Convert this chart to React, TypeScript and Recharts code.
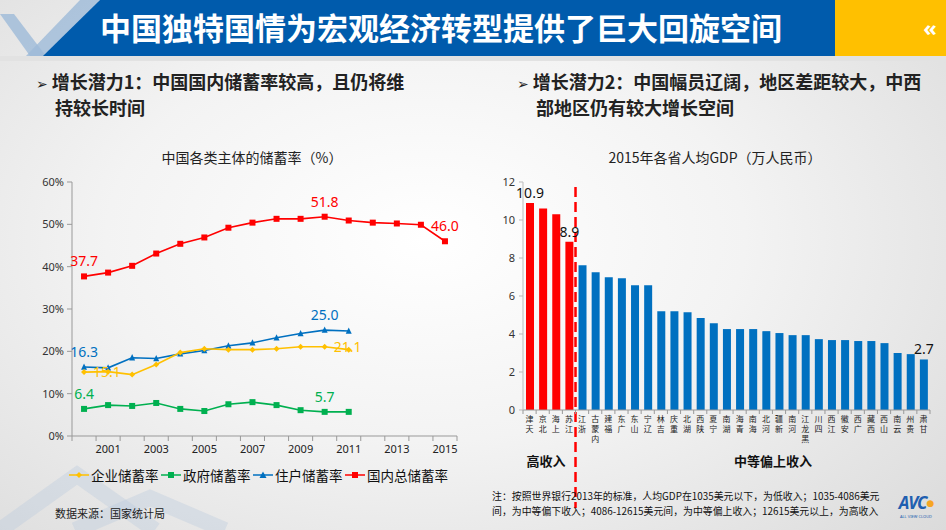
import React from 'react';
import { LineChart, Line, XAxis, YAxis, BarChart, Bar, Cell, LabelList, ReferenceLine } from 'recharts';

// ---------- Left chart data ----------
const years = ['2000','2001','2002','2003','2004','2005','2006','2007','2008','2009','2010','2011','2012','2013','2014','2015'];
const totalSaving = [37.7, 38.6, 40.2, 43.1, 45.4, 46.9, 49.2, 50.4, 51.3, 51.3, 51.8, 50.9, 50.4, 50.2, 49.9, 46.0];
const householdSaving = [16.3, 16.1, 18.5, 18.3, 19.4, 20.2, 21.3, 22.0, 23.2, 24.2, 25.0, 24.8];
const enterpriseSaving = [15.1, 15.2, 14.5, 16.9, 19.7, 20.6, 20.4, 20.4, 20.6, 21.1, 21.1, 20.4];
const governmentSaving = [6.4, 7.3, 7.1, 7.8, 6.4, 5.9, 7.5, 8.0, 7.3, 6.1, 5.7, 5.7];
const savingTicks = [0, 10, 20, 30, 40, 50, 60];
const totalLabelIdx = [0, 10, 15];
const householdLabelIdx = [0, 10];
const enterpriseLabelIdx = [0, 10];
const governmentLabelIdx = [0, 10];

// ---------- Right chart data ----------
const provinces = ['天津','北京','上海','江苏','浙江','内蒙古','福建','广东','山东','辽宁','吉林','重庆','湖北','陕西','宁夏','湖南','青海','海南','河北','新疆','河南','黑龙江','四川','江西','安徽','广西','西藏','山西','云南','贵州','甘肃'];
const gdpPerCapita = [10.9, 10.6, 10.3, 8.86, 7.62, 7.25, 6.99, 6.94, 6.57, 6.57, 5.2, 5.2, 5.15, 4.84, 4.57, 4.26, 4.26, 4.26, 4.15, 4.05, 3.94, 3.94, 3.73, 3.68, 3.68, 3.63, 3.63, 3.52, 3.0, 2.94, 2.66];
const highIncomeCount = 4;
const gdpTicks = [0, 2, 4, 6, 8, 10, 12];
const gdpLabelIdx = [0, 3, 30];

const savingData = years.map((y, i) => ({
  year: y,
  total: totalSaving[i] ?? null,
  household: householdSaving[i] ?? null,
  enterprise: enterpriseSaving[i] ?? null,
  government: governmentSaving[i] ?? null,
}));
const gdpData = provinces.map((p, i) => ({ name: p, gdp: gdpPerCapita[i] }));

const RED = '#FF0000';
const BLUE = '#0070C0';
const YELLOW = '#FFC000';
const GREEN = '#00B050';
const NUM_FONT = '"Noto Sans", "DejaVu Sans", sans-serif';
const CJK_FONT = '"Noto Sans CJK SC", "Noto Sans", sans-serif';

const HALF_L = 385 / 16 / 2;
const HALF_R = 407 / 31 / 2;

const squareDot = (color: string, s: number) => (p: any) => {
  if (p.cx == null || p.cy == null || p.value == null) return <g key={p.index} />;
  return <rect key={p.index} x={p.cx - s / 2} y={p.cy - s / 2} width={s} height={s} fill={color} />;
};
const triangleDot = (color: string, s: number) => (p: any) => {
  if (p.cx == null || p.cy == null || p.value == null) return <g key={p.index} />;
  const { cx, cy } = p;
  return <polygon key={p.index} points={`${cx},${cy - s * 0.6} ${cx - s / 2},${cy + s * 0.45} ${cx + s / 2},${cy + s * 0.45}`} fill={color} />;
};
const diamondDot = (color: string, s: number) => (p: any) => {
  if (p.cx == null || p.cy == null || p.value == null) return <g key={p.index} />;
  const { cx, cy } = p;
  return <polygon key={p.index} points={`${cx},${cy - s / 2} ${cx + s / 2},${cy} ${cx},${cy + s / 2} ${cx - s / 2},${cy}`} fill={color} />;
};

const makeLabel = (idxs: number[], color: string, pos: 'top' | 'right') => (p: any) => {
  const { value, index } = p;
  const x = p.x ?? p.viewBox?.x;
  const y = p.y ?? p.viewBox?.y;
  if (!idxs.includes(index) || value == null || x == null) return null;
  const txt = Number(value).toFixed(1);
  if (pos === 'top') {
    return <text key={index} x={x} y={y - 10} textAnchor="middle" fill={color} fontSize={14} fontFamily={NUM_FONT}>{txt}</text>;
  }
  return <text key={index} x={x + 9} y={y + 5} textAnchor="start" fill={color} fontSize={14} fontFamily={NUM_FONT}>{txt}</text>;
};

const barLabel = (p: any) => {
  const { x, y, width, value, index } = p;
  if (!gdpLabelIdx.includes(index)) return null;
  return <text key={index} x={x + width / 2} y={y - 5} textAnchor="middle" fill="#111" fontSize={14} fontFamily={NUM_FONT}>{Number(value).toFixed(1)}</text>;
};

const YearTick = (p: any) => {
  const { x, y, payload, index } = p;
  const axisY = y - 7;
  const yr = Number(payload.value);
  return (
    <g>
      <line x1={x - HALF_L} x2={x - HALF_L} y1={axisY} y2={axisY + 5} stroke="#999" />
      {index === years.length - 1 && <line x1={x + HALF_L} x2={x + HALF_L} y1={axisY} y2={axisY + 5} stroke="#999" />}
      {yr % 2 === 1 && (
        <text x={x} y={axisY + 17} textAnchor="middle" fontSize={11} fill="#222" fontFamily={NUM_FONT}>{payload.value}</text>
      )}
    </g>
  );
};

const ProvTick = (p: any) => {
  const { x, y, payload, index } = p;
  const axisY = y - 7;
  const chars = Array.from(String(payload.value)).reverse();
  return (
    <g>
      <line x1={x - HALF_R} x2={x - HALF_R} y1={axisY} y2={axisY + 4} stroke="#999" />
      {index === provinces.length - 1 && <line x1={x + HALF_R} x2={x + HALF_R} y1={axisY} y2={axisY + 4} stroke="#999" />}
      {chars.map((c, i) => (
        <text key={i} x={x} y={axisY + 12 + i * 10} textAnchor="middle" fontSize={8} fill="#222" fontFamily={CJK_FONT}>{c}</text>
      ))}
    </g>
  );
};

const LegendIcon = ({ color, kind }: { color: string; kind: string }) => (
  <svg width={20} height={10} style={{ verticalAlign: 'middle', marginRight: 2 }}>
    <line x1={0} x2={20} y1={5} y2={5} stroke={color} strokeWidth={1.5} />
    {kind === 'square' && <rect x={7} y={2} width={6} height={6} fill={color} />}
    {kind === 'triangle' && <polygon points="10,1.5 6.5,8 13.5,8" fill={color} />}
    {kind === 'diamond' && <polygon points="10,2 13,5 10,8 7,5" fill={color} />}
  </svg>
);

const legendItems = [
  { name: '企业储蓄率', color: YELLOW, kind: 'diamond', left: 69 },
  { name: '政府储蓄率', color: GREEN, kind: 'square', left: 161 },
  { name: '住户储蓄率', color: BLUE, kind: 'triangle', left: 253 },
  { name: '国内总储蓄率', color: RED, kind: 'square', left: 345 },
];

export default function App() {
  return (
    <div
      style={{
        position: 'absolute', left: 0, top: 0, width: 946, height: 530, overflow: 'hidden',
        background: 'radial-gradient(ellipse 75% 85% at 45% 45%, #ffffff 0%, #f3f3f3 45%, #dadada 100%)',
        fontFamily: CJK_FONT,
      }}
    >
      {/* Header */}
      <svg width={946} height={62} style={{ position: 'absolute', left: 0, top: 0 }}>
        <rect x={0} y={56} width={946} height={5} fill="#e2e2e2" />
        <polygon points="0,14 14,14 46,56 30,56" fill="#9dbad8" opacity={0.8} />
        <polygon points="80,0 100,0 46,56 26,56" fill="#9dbad8" opacity={0.8} />
        <polygon points="100,0 835,0 835,56 43,56" fill="#005BAC" />
        <rect x={835} y={0} width={111} height={56} fill="#FFC000" />
        <text x={930} y={36} textAnchor="middle" fill="#fff" fontSize={22} fontWeight="bold" fontFamily={NUM_FONT}>«</text>
      </svg>
      <div style={{ position: 'absolute', left: 100, top: 7, color: '#fff', fontSize: 31, fontWeight: 'bold', lineHeight: '40px', whiteSpace: 'nowrap' }}>
        中国独特国情为宏观经济转型提供了巨大回旋空间
      </div>

      {/* Bottom-left decoration */}
      <svg width={300} height={80} style={{ position: 'absolute', left: 0, top: 450 }}>
        <polyline points="0,80 77,25 155,80" fill="none" stroke="#b8c9dc" strokeWidth={16} opacity={0.35} />
        <polyline points="75,80 150,48 225,80" fill="none" stroke="#b8c9dc" strokeWidth={16} opacity={0.35} />
      </svg>

      {/* Sub headings */}
      <div style={{ position: 'absolute', left: 36, top: 70, fontSize: 18, fontWeight: 'bold', color: '#222', lineHeight: '23px', whiteSpace: 'nowrap' }}>
        <span style={{ fontFamily: '"DejaVu Sans"', fontSize: 14, fontWeight: 'normal', marginRight: 4 }}>➢</span>增长潜力1：中国国内储蓄率较高，且仍将维<br />
        <span style={{ marginLeft: 19 }}>持较长时间</span>
      </div>
      <div style={{ position: 'absolute', left: 517, top: 70, fontSize: 18, fontWeight: 'bold', color: '#222', lineHeight: '23px', whiteSpace: 'nowrap' }}>
        <span style={{ fontFamily: '"DejaVu Sans"', fontSize: 14, fontWeight: 'normal', marginRight: 4 }}>➢</span>增长潜力2：中国幅员辽阔，地区差距较大，中西<br />
        <span style={{ marginLeft: 19 }}>部地区仍有较大增长空间</span>
      </div>

      {/* Chart titles */}
      <div style={{ position: 'absolute', left: 152, width: 200, top: 147, textAlign: 'center', fontSize: 14, color: '#222', whiteSpace: 'nowrap' }}>
        中国各类主体的储蓄率（%）
      </div>
      <div style={{ position: 'absolute', left: 600, width: 230, top: 147, textAlign: 'center', fontSize: 14, color: '#222', whiteSpace: 'nowrap' }}>
        2015年各省人均GDP（万人民币）
      </div>

      {/* Left line chart */}
      <div style={{ position: 'absolute', left: 0, top: 170 }}>
        <LineChart width={480} height={300} data={savingData} margin={{ top: 12, right: 23, bottom: 0, left: 0 }}>
          <XAxis dataKey="year" height={34} interval={0} tickLine={false} tickSize={5} tickMargin={2}
            padding={{ left: HALF_L, right: HALF_L }}
            axisLine={{ stroke: '#999' }} tick={<YearTick />} />
          <YAxis width={72} domain={[0, 60]} ticks={savingTicks} tickFormatter={(v) => `${v}%`} interval={0}
            tickSize={5} tickMargin={3} axisLine={{ stroke: '#999' }} tickLine={{ stroke: '#999' }}
            tick={{ fontSize: 11, fill: '#333', fontFamily: NUM_FONT }} />
          <Line dataKey="total" stroke={RED} strokeWidth={1.6} isAnimationActive={false} dot={squareDot(RED, 6)} activeDot={false}>
            <LabelList dataKey="total" content={makeLabel(totalLabelIdx, RED, 'top')} />
          </Line>
          <Line dataKey="household" stroke={BLUE} strokeWidth={1.6} isAnimationActive={false} dot={triangleDot(BLUE, 6)} activeDot={false}>
            <LabelList dataKey="household" content={makeLabel(householdLabelIdx, BLUE, 'top')} />
          </Line>
          <Line dataKey="enterprise" stroke={YELLOW} strokeWidth={1.6} isAnimationActive={false} dot={diamondDot(YELLOW, 6)} activeDot={false}>
            <LabelList dataKey="enterprise" content={makeLabel(enterpriseLabelIdx, YELLOW, 'right')} />
          </Line>
          <Line dataKey="government" stroke={GREEN} strokeWidth={1.6} isAnimationActive={false} dot={squareDot(GREEN, 6)} activeDot={false}>
            <LabelList dataKey="government" content={makeLabel(governmentLabelIdx, GREEN, 'top')} />
          </Line>
        </LineChart>
      </div>

      {/* Left legend */}
      {legendItems.map((it) => (
        <div key={it.name} style={{ position: 'absolute', left: it.left, top: 463, fontSize: 13.5, color: '#111', whiteSpace: 'nowrap', lineHeight: '20px' }}>
          <LegendIcon color={it.color} kind={it.kind} />
          <span style={{ verticalAlign: 'middle' }}>{it.name}</span>
        </div>
      ))}

      <div style={{ position: 'absolute', left: 55, top: 505, fontSize: 11, color: '#222', whiteSpace: 'nowrap' }}>
        数据来源：国家统计局
      </div>

      {/* Right bar chart */}
      <div style={{ position: 'absolute', left: 480, top: 170 }}>
        <BarChart width={466} height={345} data={gdpData} margin={{ top: 12, right: 16, bottom: 5, left: 0 }} barSize={8}>
          <XAxis dataKey="name" height={100} interval={0} tickLine={false} tickSize={5} tickMargin={2}
            axisLine={{ stroke: '#999' }} tick={<ProvTick />} />
          <YAxis width={43} domain={[0, 12]} ticks={gdpTicks} interval={0} tickSize={4} tickMargin={4}
            axisLine={{ stroke: '#bbb' }} tickLine={{ stroke: '#bbb' }}
            tick={{ fontSize: 11, fill: '#333', fontFamily: NUM_FONT }} />
          <Bar dataKey="gdp" isAnimationActive={false}>
            {gdpData.map((d, i) => (
              <Cell key={d.name} fill={i < highIncomeCount ? RED : BLUE} />
            ))}
            <LabelList dataKey="gdp" content={barLabel} />
          </Bar>
          <ReferenceLine
            x={provinces[highIncomeCount - 1]}
            stroke={RED}
            strokeWidth={2.5}
            strokeDasharray="10 5"
            shape={(p: any) => {
              const top = Math.min(p.y1, p.y2);
              const bottom = Math.max(p.y1, p.y2);
              return (
                <line x1={p.x1 + HALF_R} x2={p.x2 + HALF_R} y1={top + 5} y2={bottom + 98}
                  stroke={RED} strokeWidth={2.5} strokeDasharray="10 5" />
              );
            }}
          />
        </BarChart>
      </div>

      <div style={{ position: 'absolute', left: 516, width: 60, top: 451, textAlign: 'center', fontSize: 13, fontWeight: 'bold', color: '#111' }}>高收入</div>
      <div style={{ position: 'absolute', left: 713, width: 120, top: 451, textAlign: 'center', fontSize: 13, fontWeight: 'bold', color: '#111' }}>中等偏上收入</div>

      {/* Note */}
      <div style={{ position: 'absolute', left: 492, top: 489, fontSize: 9.9, color: '#111', lineHeight: '15px', whiteSpace: 'nowrap' }}>
        注：按照世界银行2013年的标准，人均GDP在1035美元以下，为低收入；1035-4086美元<br />
        间，为中等偏下收入；4086-12615美元间，为中等偏上收入；12615美元以上，为高收入
      </div>

      {/* AVC logo */}
      <div style={{ position: 'absolute', left: 893, top: 493, width: 46, textAlign: 'center', color: '#1f5fb0', fontFamily: NUM_FONT }}>
        <div style={{ fontSize: 17, fontWeight: 'bold', fontStyle: 'italic', lineHeight: '19px', letterSpacing: -1, whiteSpace: 'nowrap' }}>
          AVC<span style={{ color: '#f5a623', fontSize: 9, verticalAlign: 'top' }}>●</span>
        </div>
        <div style={{ fontSize: 4, lineHeight: '5px', marginTop: 2, whiteSpace: 'nowrap' }}>ALL VIEW CLOUD</div>
      </div>
    </div>
  );
}
